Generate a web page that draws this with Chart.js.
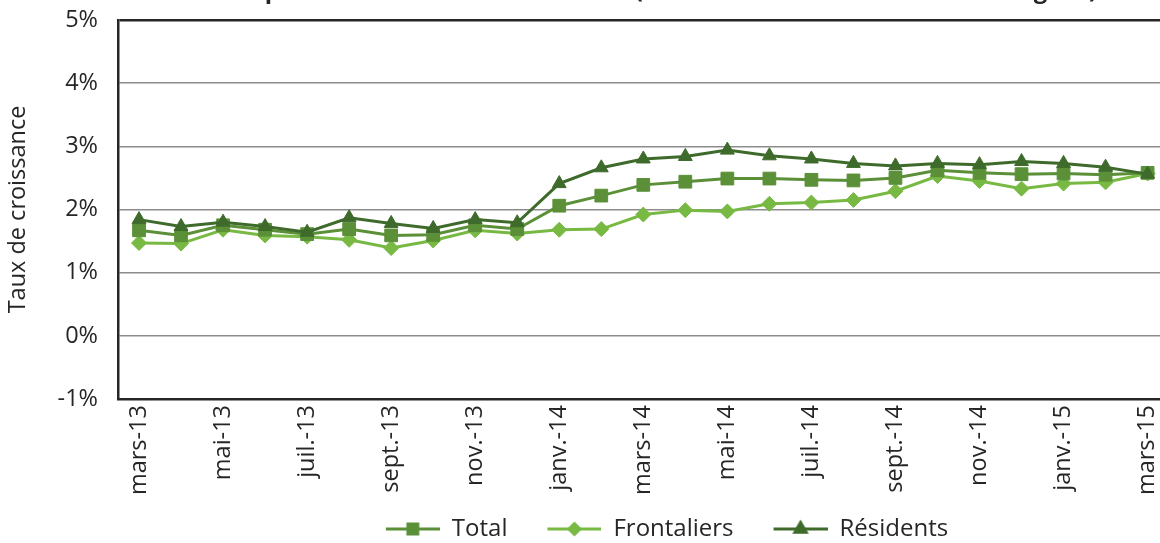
<!DOCTYPE html>
<html>
<head>
<meta charset="utf-8">
<script src="https://cdn.jsdelivr.net/npm/chart.js@4/dist/chart.umd.min.js"></script>
<style>
  html, body { margin: 0; padding: 0; overflow: hidden; background: #fff; width: 1160px; height: 543px; }
  #wrap { position: absolute; left: 0; top: -23px; width: 1182px; height: 574px; }
</style>
</head>
<body>
<div id="wrap"><canvas id="chart"></canvas></div>
<script>
const months = ['mars-13', 'avr.-13', 'mai-13', 'juin-13', 'juil.-13', 'août-13', 'sept.-13', 'oct.-13',
  'nov.-13', 'déc.-13', 'janv.-14', 'févr.-14', 'mars-14', 'avr.-14', 'mai-14', 'juin-14', 'juil.-14',
  'août-14', 'sept.-14', 'oct.-14', 'nov.-14', 'déc.-14', 'janv.-15', 'févr.-15', 'mars-15']
const total = [1.67, 1.59, 1.75, 1.68, 1.61, 1.69, 1.59, 1.60, 1.75, 1.69, 2.06, 2.22, 2.39, 2.44, 2.49,
  2.49, 2.47, 2.46, 2.50, 2.62, 2.58, 2.56, 2.57, 2.55, 2.58]
const frontaliers = [1.47, 1.46, 1.68, 1.59, 1.57, 1.52, 1.39, 1.51, 1.67, 1.62, 1.68, 1.69, 1.92, 1.99,
  1.97, 2.09, 2.11, 2.15, 2.29, 2.53, 2.45, 2.33, 2.41, 2.43, 2.57]
const residents = [1.84, 1.73, 1.80, 1.73, 1.64, 1.87, 1.78, 1.70, 1.84, 1.79, 2.41, 2.66, 2.80, 2.84,
  2.94, 2.85, 2.80, 2.73, 2.69, 2.73, 2.71, 2.76, 2.73, 2.67, 2.56]
const yTicks = [-1, 0, 1, 2, 3, 4, 5]

const FONT = "'Open Sans', 'Noto Sans', sans-serif"
const TEXT = '#262626'
const AXIS = '#262626'

// legend icon: short line with the marker in the middle
function legendIcon(color, style, radius) {
  const c = document.createElement('canvas')
  c.width = 84
  c.height = 20
  const ctx = c.getContext('2d')
  ctx.strokeStyle = color
  ctx.fillStyle = color
  ctx.lineWidth = 3
  ctx.beginPath()
  ctx.moveTo(30, 10)
  ctx.lineTo(84, 10)
  ctx.stroke()
  Chart.helpers.drawPoint(ctx, {pointStyle: style, radius: radius, rotation: 0, borderWidth: 1}, 57, 10)
  return c
}

const series = [
  {label: 'Total', data: total, color: '#5b9038', style: 'rect', radius: 9, legendRadius: 7, order: 2},
  {label: 'Frontaliers', data: frontaliers, color: '#78b943', style: 'rectRot', radius: 7.5, legendRadius: 5.5, order: 3},
  {label: 'Résidents', data: residents, color: '#3e6b2b', style: 'triangle', radius: 8, legendRadius: 6.5, order: 1}
]

const legendShift = {
  id: 'legendShift',
  afterLayout(chart) {
    chart.legend.left += 61
    chart.legend.right += 61
  }
}

new Chart(document.getElementById('chart'), {
  type: 'line',
  data: {
    labels: months,
    datasets: series.map(s => ({
      label: s.label,
      data: s.data,
      borderColor: s.color,
      backgroundColor: s.color,
      borderWidth: 3,
      pointStyle: s.style,
      pointRadius: s.radius,
      pointBorderWidth: 1,
      pointBackgroundColor: s.color,
      pointBorderColor: s.color,
      tension: 0,
      order: s.order
    }))
  },
  options: {
    responsive: true,
    maintainAspectRatio: false,
    animation: false,
    layout: {padding: 0},
    plugins: {
      tooltip: {enabled: false},
      title: {
        display: true,
        text: "Hausse de l'emploi salarié intérieur sur un an (taux de croissance des séries longues)",
        color: TEXT,
        font: {family: FONT, size: 24, weight: 'bold'},
        padding: {top: 0, bottom: 14.2}
      },
      legend: {
        position: 'bottom',
        labels: {
          usePointStyle: true,
          pointStyleWidth: 84,
          padding: 10,
          color: TEXT,
          font: {family: FONT, size: 24},
          generateLabels: chart => series.map((s, i) => ({
            text: s.label,
            pointStyle: legendIcon(s.color, s.style, s.legendRadius),
            fillStyle: s.color,
            strokeStyle: s.color,
            lineWidth: 0,
            fontColor: TEXT,
            hidden: false,
            datasetIndex: i
          }))
        }
      }
    },
    scales: {
      x: {
        offset: true,
        grid: {display: false, drawTicks: false},
        border: {display: true, color: AXIS, width: 2.5},
        ticks: {
          autoSkip: false,
          minRotation: 90,
          maxRotation: 90,
          padding: 6,
          color: TEXT,
          font: {family: FONT, size: 23.5},
          callback: (v, i) => (i % 2 === 0 ? months[i] : '')
        },
        afterFit: scale => { scale.height = 108 }
      },
      y: {
        min: -1,
        max: 5,
        afterBuildTicks: scale => { scale.ticks = yTicks.map(v => ({value: v})) },
        grid: {
          drawTicks: false,
          color: ctx => (ctx.tick && (ctx.tick.value === 5 || ctx.tick.value === -1) ? AXIS : '#8c8c8c'),
          lineWidth: ctx => (ctx.tick && ctx.tick.value === 5 ? 2.5 : 1.5)
        },
        border: {display: true, color: AXIS, width: 2.5},
        ticks: {
          padding: 20,
          color: TEXT,
          font: {family: FONT, size: 23.5},
          callback: v => v + '%'
        },
        title: {
          display: true,
          text: 'Taux de croissance',
          color: TEXT,
          font: {family: FONT, size: 23.5},
          padding: {top: 4, bottom: 0}
        },
        afterFit: scale => { scale.width = 118 }
      }
    }
  },
  plugins: [legendShift]
})
</script>
</body>
</html>
